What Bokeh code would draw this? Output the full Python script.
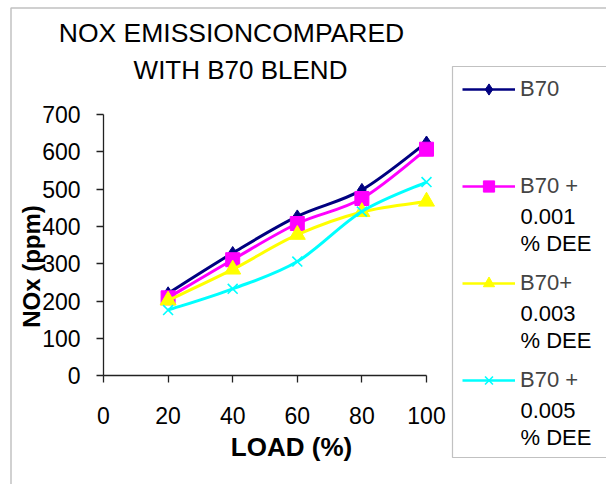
import numpy as np
from bokeh.plotting import figure
from bokeh.models import Range1d, FixedTicker, Label, Legend, LegendItem, BoxAnnotation
from bokeh.embed import file_html
from bokeh.resources import INLINE

# ---- data ----
load = [20, 40, 60, 80, 100]
b70 = [221, 329, 427, 498, 625]
b70_001 = [209, 311, 408, 475, 607]
b70_003 = [202, 285, 378, 439, 467]
b70_005 = [176, 233, 306, 440, 519]
x_ticks = [0, 20, 40, 60, 80, 100]
y_ticks = [0, 100, 200, 300, 400, 500, 600, 700]
legend_first = ["B70", "B70 +", "B70+", "B70 +"]
legend_rest = [[], ["0.001", "% DEE"], ["0.003", "% DEE"], ["0.005", "% DEE"]]
colors = ["#000080", "#FF00FF", "#FFFF00", "#00FFFF"]
title_lines = ["NOX EMISSIONCOMPARED", "WITH B70 BLEND"]
x_title = "LOAD (%)"
y_title = "NOx (ppm)"

# ---- layout (pixels) ----
W, H = 606, 484
X0, Y0 = 103, 375.3        # pixel of x=0 / y=0
X100, Y700 = 426, 114      # pixel of x=100 / y=700
sx = (X100 - X0) / 100.0
sy = (Y0 - Y700) / 700.0

def px2x(px):
    return (px - X0) / sx

def px2y(py):
    return (Y0 - py) / sy

FONT = "Liberation Sans"

p = figure(width=W, height=H, output_backend="svg", toolbar_location=None,
           x_range=Range1d(px2x(0), px2x(W)), y_range=Range1d(px2y(H), px2y(0)),
           min_border=0, min_border_left=0, min_border_right=0,
           min_border_top=0, min_border_bottom=0)
p.title.visible = False
p.outline_line_color = None
p.grid.visible = False
p.background_fill_color = "white"
p.border_fill_color = "white"

for ax, ticks, bnds in ((p.xaxis[0], x_ticks, (0, 100)), (p.yaxis[0], y_ticks, (0, 700))):
    ax.ticker = FixedTicker(ticks=ticks)
    ax.bounds = bnds
    ax.fixed_location = 0
    ax.minor_tick_line_color = None
    ax.major_tick_in = 0
    ax.major_tick_out = 7
    ax.axis_line_color = "#222222"
    ax.axis_line_width = 1.3
    ax.major_tick_line_color = "#222222"
    ax.major_tick_line_width = 1.3
    ax.major_label_text_font = FONT
    ax.major_label_text_font_size = "23px"
    ax.major_label_text_color = "black"
p.xaxis[0].major_label_standoff = 24
p.yaxis[0].major_label_standoff = 16

# ---- outer chart border ----
p.add_layout(BoxAnnotation(left=px2x(10.5), right=px2x(800), top=px2y(7.5), bottom=px2y(800),
                           fill_alpha=0, line_color="#333333", line_width=1.5))

# ---- smoothed lines (Excel-like cubic bezier through the points) ----
def bezier_parts(xs, ys):
    P = np.column_stack([xs, ys]).astype(float)
    n = len(P)
    out = {k: [] for k in ("x0", "y0", "x1", "y1", "cx0", "cy0", "cx1", "cy1")}
    for i in range(n - 1):
        p0 = P[max(i - 1, 0)]
        p1 = P[i]
        p2 = P[i + 1]
        p3 = P[min(i + 2, n - 1)]
        c1 = p1 + (p2 - p0) / 6.0
        c2 = p2 - (p3 - p1) / 6.0
        out["x0"].append(p1[0]); out["y0"].append(p1[1])
        out["x1"].append(p2[0]); out["y1"].append(p2[1])
        out["cx0"].append(c1[0]); out["cy0"].append(c1[1])
        out["cx1"].append(c2[0]); out["cy1"].append(c2[1])
    return out

series = [b70, b70_001, b70_003, b70_005]
markers = [("diamond", 13), ("square", 14), ("triangle", 16), ("x", 14)]

items = []
for vals, col, (mk, sz), lab in zip(series, colors, markers, legend_first):
    p.bezier(**bezier_parts(load, vals), line_color=col, line_width=3)
    # one-point line: draws nothing in the plot, gives the legend its line sample
    leg_line = p.line(x=load[:1], y=vals[:1], line_color=col, line_width=2.5)
    if mk == "x":
        sc = p.scatter(load, vals, marker="x", size=sz, line_color=col, line_width=1.6)
    else:
        sc = p.scatter(load, vals, marker=mk, size=sz, fill_color=col, line_color=col)
    items.append(LegendItem(label=lab, renderers=[leg_line, sc]))

# ---- legend box + legend ----
LEG_L, LEG_T, LEG_B = 452, 66, 457
p.add_layout(BoxAnnotation(left=px2x(LEG_L), right=px2x(800), top=px2y(LEG_T), bottom=px2y(LEG_B),
                           fill_color="white", fill_alpha=1, line_color="#333333", line_width=1.2))

ROW, PITCH, PAD = 28, 97, 9
n = len(items)
leg_h = 2 * PAD + n * ROW + (n - 1) * (PITCH - ROW)
legend = Legend(items=items, location=(LEG_L + 10, H - (LEG_T + leg_h) + 9),
                label_text_font=FONT, label_text_font_size="22px",
                glyph_width=53, glyph_height=ROW, label_height=ROW, label_standoff=5,
                padding=PAD, spacing=PITCH - ROW, margin=0, label_width=60,
                border_line_color=None, background_fill_alpha=0)
p.add_layout(legend)

TEXT_X = 520
for k, rest in enumerate(legend_rest):
    cy = LEG_T + PAD + ROW / 2 + k * PITCH
    for j, t in enumerate(rest):
        p.add_layout(Label(x=px2x(TEXT_X), y=px2y(cy + 2 + (j + 1) * 27.5), text=t,
                           text_align="left", text_baseline="middle",
                           text_font=FONT, text_font_size="22px", text_color="black"))

# ---- titles ----
p.add_layout(Label(x=px2x(231), y=px2y(47), text=title_lines[0], text_align="center",
                   text_font=FONT, text_font_size="26.5px", text_color="black"))
p.add_layout(Label(x=px2x(240), y=px2y(84), text=title_lines[1], text_align="center",
                   text_font=FONT, text_font_size="26px", text_color="black"))
p.add_layout(Label(x=px2x(291), y=px2y(461), text=x_title, text_align="center",
                   text_font=FONT, text_font_size="26px", text_font_style="bold", text_color="black"))
p.add_layout(Label(x=px2x(31), y=px2y(266), text=y_title, text_align="center", text_baseline="middle",
                   angle=np.pi / 2,
                   text_font=FONT, text_font_size="24px", text_font_style="bold", text_color="black"))

open("out.html", "w").write(file_html(p, INLINE))
